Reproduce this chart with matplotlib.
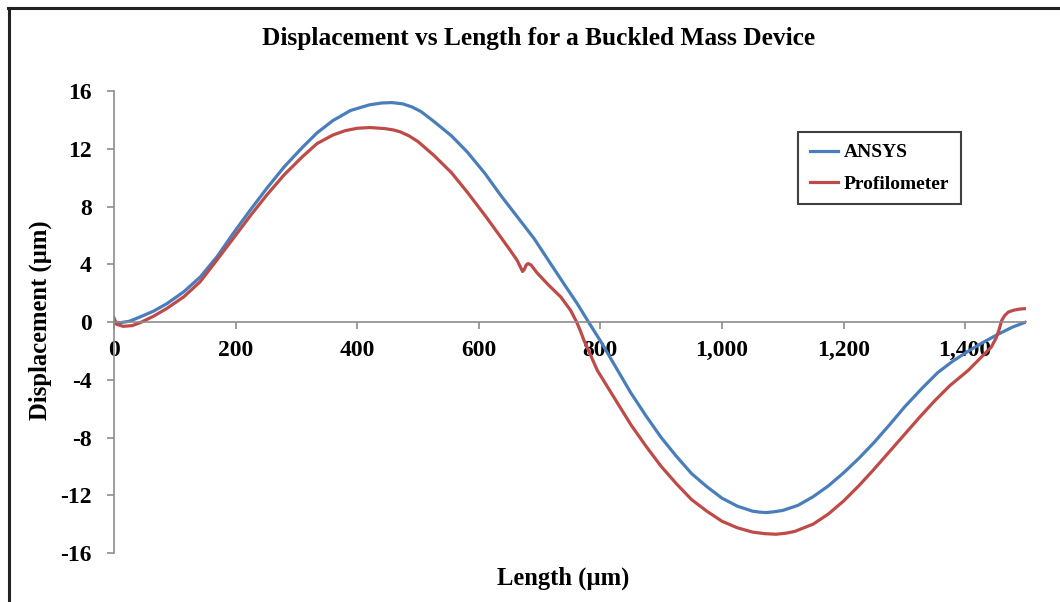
import matplotlib
matplotlib.use("Agg")
import matplotlib.pyplot as plt
from matplotlib.lines import Line2D
from matplotlib.ticker import FuncFormatter

# ANSYS simulation
ansys_x = [0, 10, 25, 43, 65, 87, 115, 142, 170, 196, 225, 251, 280, 310, 334,
           360, 389, 420, 440, 457, 475, 490, 505, 526, 555, 581, 610, 636, 665,
           691, 718, 740, 762, 779, 800, 825, 850, 875, 900, 925, 950, 975,
           1000, 1025, 1050, 1062, 1072, 1085, 1100, 1125, 1150, 1175, 1200,
           1225, 1250, 1275, 1300, 1330, 1355, 1380, 1405, 1430, 1454, 1478,
           1500]
ansys_y = [0.0, -0.05, 0.05, 0.35, 0.75, 1.27, 2.1, 3.12, 4.55, 6.13, 7.8, 9.24,
           10.75, 12.1, 13.1, 13.95, 14.65, 15.04, 15.17, 15.2, 15.11, 14.9,
           14.58, 13.9, 12.9, 11.78, 10.3, 8.78, 7.2, 5.78, 4.05, 2.65, 1.27,
           0.1, -1.3, -3.1, -4.9, -6.5, -8.0, -9.3, -10.5, -11.4, -12.2, -12.75,
           -13.1, -13.17, -13.2, -13.15, -13.05, -12.7, -12.1, -11.35, -10.45,
           -9.45, -8.35, -7.15, -5.9, -4.55, -3.5, -2.7, -2.02, -1.4, -0.85,
           -0.35, 0.0]

# profilometer scan
prof_x = [0, 4, 15, 30, 43, 65, 87, 115, 142, 164, 200, 225, 251, 280, 310, 334,
          360, 380, 400, 421, 445, 460, 471, 485, 500, 526, 555, 581, 610, 636,
          652, 663, 668, 672, 675, 678, 681, 686, 696, 715, 735, 751, 761, 767,
          773, 785, 795, 825, 850, 875, 900, 925, 950, 975, 1000, 1025, 1050,
          1070, 1089, 1105, 1120, 1150, 1175, 1200, 1225, 1250, 1275, 1300,
          1325, 1350, 1375, 1405, 1425, 1443, 1451, 1456, 1460, 1465, 1471,
          1480, 1490, 1500]
prof_y = [0.3, -0.15, -0.3, -0.25, -0.05, 0.4, 0.94, 1.75, 2.8, 4.0, 6.0, 7.4,
          8.78, 10.2, 11.45, 12.36, 12.95, 13.25, 13.42, 13.47, 13.4, 13.3,
          13.17, 12.9, 12.5, 11.55, 10.35, 9.0, 7.4, 5.89, 4.95, 4.28, 3.85,
          3.5, 3.65, 3.95, 4.05, 3.95, 3.4, 2.55, 1.73, 0.81, 0.0, -0.6, -1.27,
          -2.4, -3.35, -5.4, -7.1, -8.6, -10.0, -11.2, -12.3, -13.1, -13.8,
          -14.25, -14.55, -14.66, -14.7, -14.63, -14.5, -14.0, -13.3, -12.4,
          -11.35, -10.2, -9.0, -7.8, -6.6, -5.45, -4.4, -3.35, -2.5, -1.73,
          -1.1, -0.5, 0.1, 0.45, 0.69, 0.82, 0.9, 0.93]

x_ticks = [0, 200, 400, 600, 800, 1000, 1200, 1400]
y_ticks = [-16, -12, -8, -4, 0, 4, 8, 12, 16]

plt.rcParams['font.family'] = ['Liberation Serif', 'DejaVu Serif']
plt.rcParams['font.weight'] = 'bold'
plt.rcParams['axes.unicode_minus'] = False

fig = plt.figure(figsize=(10.6, 6.02), dpi=100)
ax = fig.add_axes([0.1075, 0.0814, 0.8604, 0.7674])

ax.plot(ansys_x, ansys_y, color='#4A7EBB', lw=2.3, label='ANSYS')
ax.plot(prof_x, prof_y, color='#BE4B48', lw=2.3, label='Profilometer')

ax.set_xlim(0, 1500)
ax.set_ylim(-16, 16)
ax.set_xticks(x_ticks)
ax.set_yticks(y_ticks)
ax.xaxis.set_major_formatter(FuncFormatter(lambda v, p: f'{int(v):,}'))

grey = '#8C8C8C'
ax.spines['top'].set_visible(False)
ax.spines['right'].set_visible(False)
ax.spines['bottom'].set_position(('data', 0))
for s in ('left', 'bottom'):
    ax.spines[s].set_color(grey)
    ax.spines[s].set_linewidth(1.2)
ax.tick_params(axis='both', colors=grey, labelcolor='black', labelsize=17,
               direction='out', length=5, width=1.2)
ax.tick_params(axis='y', pad=11)
ax.tick_params(axis='x', pad=8)
for lab in ax.get_xticklabels() + ax.get_yticklabels():
    lab.set_fontweight('bold')

fig.text(0.508, 0.936, 'Displacement vs Length for a Buckled Mass Device',
         ha='center', va='center', fontsize=18.3, fontweight='bold')
fig.text(0.531, 0.040, 'Length (µm)', ha='center', va='center',
         fontsize=17.7, fontweight='bold')
fig.text(0.038, 0.468, 'Displacement (µm)', ha='center', va='center',
         rotation=90, fontsize=17.7, fontweight='bold')

leg = ax.legend(loc='upper left', bbox_to_anchor=(0.75, 0.911),
                borderaxespad=0, fancybox=False, framealpha=1,
                edgecolor='#404040', handlelength=1.45,
                handletextpad=0.3, labelspacing=0.7, borderpad=0.6,
                prop={'weight': 'bold', 'size': 14})
leg.get_frame().set_linewidth(1.5)

# outer chart border (top and left edges)
fig.add_artist(Line2D([0.008, 1.0], [0.986, 0.986], transform=fig.transFigure,
                      color='#222222', lw=2.2))
fig.add_artist(Line2D([0.0085, 0.0085], [0.0, 0.986], transform=fig.transFigure,
                      color='#222222', lw=2.2))

fig.savefig('out.png', dpi=100)
